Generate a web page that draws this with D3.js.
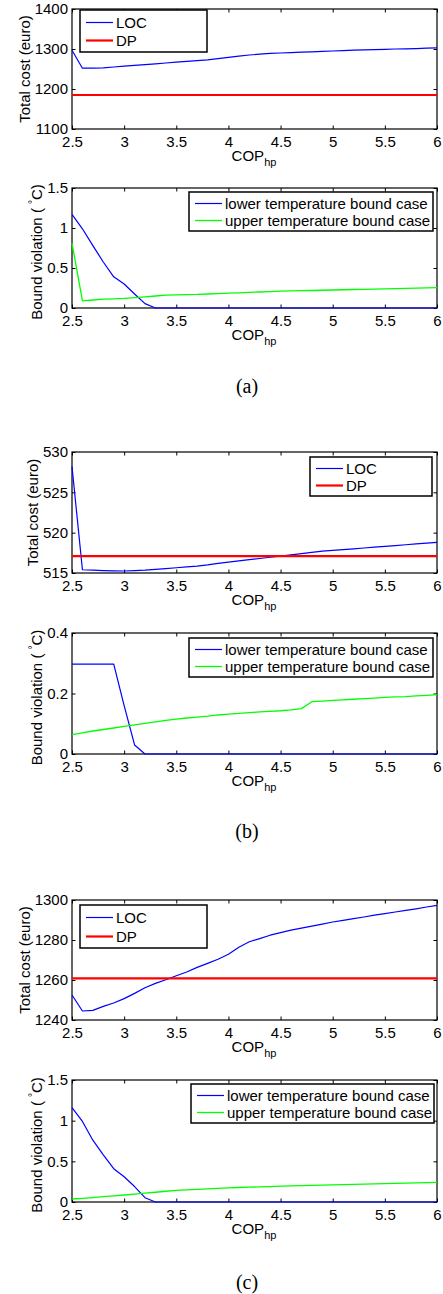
<!DOCTYPE html>
<html>
<head>
<meta charset="utf-8">
<script src="https://cdn.jsdelivr.net/npm/d3@7/dist/d3.min.js"></script>
<style>
  html, body { margin: 0; padding: 0; background: #fff; }
  svg { display: block; }
  text { font-family: "Liberation Sans", Arial, Helvetica, sans-serif; fill: #000; }
  .caption { font-family: "Liberation Serif", "Times New Roman", serif; }
</style>
</head>
<body>
<svg id="fig" width="443" height="1294"></svg>
<script>
// Heat pump coefficient of performance (x axis, shared by all panels)
const cop = [2.5, 2.6, 2.7, 2.8, 2.9, 3.0, 3.1, 3.2, 3.3, 3.4, 3.5, 3.6, 3.7, 3.8, 3.9,
             4.0, 4.1, 4.2, 4.3, 4.4, 4.5, 4.6, 4.7, 4.8, 4.9, 5.0, 5.1, 5.2, 5.3, 5.4,
             5.5, 5.6, 5.7, 5.8, 5.9, 6.0];
const copTicks = [2.5, 3, 3.5, 4, 4.5, 5, 5.5, 6];

// (a) total cost and bound violation
const costLocA = [1297, 1252, 1252, 1253, 1255, 1257, 1259, 1261, 1263, 1265, 1267, 1269,
                  1271, 1273, 1276, 1279, 1282, 1285, 1287, 1289, 1290, 1291, 1292, 1293,
                  1294, 1295, 1296, 1297, 1298, 1298.5, 1299, 1300, 1300.5, 1301, 1302, 1303];
const costDpA = 1185;
const costTicksA = [1100, 1200, 1300, 1400];
const lowerA = [1.17, 0.99, 0.78, 0.575, 0.39, 0.30, 0.175, 0.055, 0, 0, 0, 0, 0, 0, 0, 0, 0, 0,
                0, 0, 0, 0, 0, 0, 0, 0, 0, 0, 0, 0, 0, 0, 0, 0, 0, 0];
const upperA = [0.81, 0.09, 0.10, 0.11, 0.115, 0.12, 0.13, 0.14, 0.15, 0.16, 0.165, 0.168,
                0.17, 0.175, 0.18, 0.185, 0.19, 0.195, 0.2, 0.205, 0.21, 0.213, 0.216, 0.219,
                0.222, 0.225, 0.228, 0.231, 0.234, 0.237, 0.24, 0.243, 0.246, 0.249, 0.252, 0.255];
const violTicksA = [0, 0.5, 1, 1.5];

// (b) total cost and bound violation
const costLocB = [528.2, 515.4, 515.35, 515.3, 515.27, 515.25, 515.3, 515.35, 515.45, 515.55,
                  515.65, 515.75, 515.85, 516.0, 516.2, 516.35, 516.5, 516.65, 516.8, 516.95,
                  517.1, 517.25, 517.4, 517.55, 517.7, 517.8, 517.9, 518.0, 518.1, 518.2,
                  518.3, 518.4, 518.5, 518.6, 518.7, 518.8];
const costDpB = 517.1;
const costTicksB = [515, 520, 525, 530];
const lowerB = [0.297, 0.297, 0.297, 0.297, 0.297, 0.16, 0.03, 0, 0, 0, 0, 0, 0, 0, 0, 0, 0, 0,
                0, 0, 0, 0, 0, 0, 0, 0, 0, 0, 0, 0, 0, 0, 0, 0, 0, 0];
const upperB = [0.064, 0.07, 0.076, 0.081, 0.086, 0.091, 0.096, 0.101, 0.106, 0.111, 0.115,
                0.119, 0.122, 0.125, 0.129, 0.132, 0.134, 0.137, 0.139, 0.141, 0.143, 0.146,
                0.15, 0.173, 0.175, 0.177, 0.179, 0.181, 0.183, 0.185, 0.187, 0.189, 0.19,
                0.192, 0.194, 0.196];
const violTicksB = [0, 0.2, 0.4];

// (c) total cost and bound violation
const costLocC = [1252.5, 1244.5, 1244.8, 1246.8, 1248.5, 1250.7, 1253.3, 1256.1, 1258.3,
                  1260.1, 1262.1, 1264.0, 1266.3, 1268.3, 1270.4, 1272.9, 1276.4, 1279.1,
                  1280.7, 1282.4, 1283.7, 1284.9, 1285.9, 1286.9, 1287.9, 1289.0, 1289.8,
                  1290.7, 1291.5, 1292.4, 1293.2, 1294.0, 1294.8, 1295.6, 1296.5, 1297.3];
const costDpC = 1260.8;
const costTicksC = [1240, 1260, 1280, 1300];
const lowerC = [1.16, 0.99, 0.76, 0.58, 0.41, 0.31, 0.19, 0.053, 0, 0, 0, 0, 0, 0, 0, 0, 0, 0,
                0, 0, 0, 0, 0, 0, 0, 0, 0, 0, 0, 0, 0, 0, 0, 0, 0, 0];
const upperC = [0.037, 0.045, 0.055, 0.066, 0.076, 0.086, 0.097, 0.108, 0.12, 0.132, 0.142,
                0.149, 0.155, 0.161, 0.167, 0.173, 0.178, 0.182, 0.186, 0.19, 0.195, 0.198,
                0.201, 0.204, 0.207, 0.21, 0.213, 0.216, 0.219, 0.222, 0.225, 0.228, 0.232,
                0.236, 0.239, 0.242];
const violTicksC = [0, 0.5, 1, 1.5];

const captions = ["(a)", "(b)", "(c)"];
const costLegend = ["LOC", "DP"];
const violLegend = ["lower temperature bound case", "upper temperature bound case"];

const BLUE = "#0000ff", RED = "#ff0000", GREEN = "#00ff00";
const FONT = 15;
const LEFT = 72, RIGHT = 437, TICK = 3.5;

const svg = d3.select("#fig");
const x = d3.scaleLinear().domain([2.5, 6]).range([LEFT, RIGHT]);

function panel(cfg) {
  const g = svg.append("g");
  const y = d3.scaleLinear().domain(cfg.yDomain).range([cfg.bottom, cfg.top]);
  const fmt = d => String(d);

  // axes with inward ticks on all four sides
  const bottom = g.append("g").attr("transform", `translate(0,${cfg.bottom})`)
    .call(d3.axisBottom(x).tickValues(copTicks).tickFormat(fmt).tickSizeInner(-TICK).tickSizeOuter(0).tickPadding(7));
  const top = g.append("g").attr("transform", `translate(0,${cfg.top})`)
    .call(d3.axisTop(x).tickValues(copTicks).tickFormat("").tickSizeInner(-TICK).tickSizeOuter(0));
  const left = g.append("g").attr("transform", `translate(${LEFT},0)`)
    .call(d3.axisLeft(y).tickValues(cfg.yTicks).tickFormat(fmt).tickSizeInner(-TICK).tickSizeOuter(0).tickPadding(4));
  const right = g.append("g").attr("transform", `translate(${RIGHT},0)`)
    .call(d3.axisRight(y).tickValues(cfg.yTicks).tickFormat("").tickSizeInner(-TICK).tickSizeOuter(0));
  [bottom, top, left, right].forEach(a => {
    a.select(".domain").remove();
    a.selectAll("line").attr("stroke", "#000").attr("stroke-width", 1);
    a.selectAll("text").attr("font-size", FONT).attr("font-family", null).attr("fill", "#000");
  });

  g.append("rect").attr("x", LEFT).attr("y", cfg.top)
    .attr("width", RIGHT - LEFT).attr("height", cfg.bottom - cfg.top)
    .attr("fill", "none").attr("stroke", "#000").attr("stroke-width", 1.2);

  // data lines
  const line = d3.line().x((d, i) => x(cop[i])).y(d => y(d));
  cfg.series.forEach(s => {
    const vals = s.values.length ? s.values : cop.map(() => s.constant);
    g.append("path").datum(vals).attr("d", line)
      .attr("fill", "none").attr("stroke", s.color).attr("stroke-width", s.width)
      .attr("stroke-linejoin", "round");
  });

  // x label with subscript
  const xl = g.append("text").attr("x", 254).attr("y", cfg.bottom + 32)
    .attr("text-anchor", "middle").attr("font-size", FONT);
  xl.append("tspan").text("COP");
  xl.append("tspan").attr("dy", 5).attr("font-size", 11).text("hp");

  // y label
  const cy = (cfg.top + cfg.bottom) / 2 + (cfg.ylabelShift || 0);
  const yl = g.append("text")
    .attr("transform", `translate(${cfg.ylabelX},${cy}) rotate(-90)`)
    .attr("text-anchor", "middle").attr("font-size", FONT);
  if (cfg.degree) {
    yl.append("tspan").text("Bound violation ( ");
    yl.append("tspan").attr("dy", -6).attr("font-size", 10).text("\u00b0");
    yl.append("tspan").attr("dy", 6).text("C)");
  } else {
    yl.text(cfg.ylabel);
  }

  // legend
  const L = cfg.legend;
  const lg = g.append("g");
  lg.append("rect").attr("x", L.x).attr("y", L.y).attr("width", L.w).attr("height", L.h)
    .attr("fill", "#fff").attr("stroke", "#000").attr("stroke-width", 1.5);
  L.items.forEach((label, i) => {
    const s = cfg.series[i];
    const yy = Math.round(L.y + L.h * (i === 0 ? 0.29 : 0.72)) + 0.5;
    lg.append("line").attr("x1", L.x + 6).attr("x2", L.x + 33)
      .attr("y1", yy).attr("y2", yy)
      .attr("stroke", s.color).attr("stroke-width", s.width);
    lg.append("text").attr("x", L.x + 36).attr("y", yy + 5)
      .attr("font-size", FONT).text(label);
  });
}

function caption(text, cy) {
  svg.append("text").attr("class", "caption").attr("x", 247).attr("y", cy + 6)
    .attr("text-anchor", "middle").attr("font-size", 20).text(text);
}

// (a)
panel({ top: 9, bottom: 129, yDomain: [1100, 1400], yTicks: costTicksA,
  series: [{ values: costLocA, color: BLUE, width: 1.2 }, { values: [], constant: costDpA, color: RED, width: 2.2 }],
  ylabel: "Total cost (euro)", ylabelX: 30,
  legend: { x: 80, y: 10, w: 127, h: 42, items: costLegend } });
panel({ top: 188, bottom: 308, yDomain: [0, 1.5], yTicks: violTicksA, degree: true, ylabelX: 42, ylabelShift: 4,
  series: [{ values: lowerA, color: BLUE, width: 1.2 }, { values: upperA, color: GREEN, width: 1.3 }],
  legend: { x: 189, y: 192, w: 244, h: 39, items: violLegend } });
caption(captions[0], 387);

// (b)
panel({ top: 452, bottom: 573, yDomain: [515, 530], yTicks: costTicksB,
  series: [{ values: costLocB, color: BLUE, width: 1.2 }, { values: [], constant: costDpB, color: RED, width: 2.2 }],
  ylabel: "Total cost (euro)", ylabelX: 38,
  legend: { x: 310, y: 457, w: 122, h: 39, items: costLegend } });
panel({ top: 633, bottom: 754, yDomain: [0, 0.4], yTicks: violTicksB, degree: true, ylabelX: 42, ylabelShift: 4,
  series: [{ values: lowerB, color: BLUE, width: 1.2 }, { values: upperB, color: GREEN, width: 1.3 }],
  legend: { x: 189, y: 638, w: 244, h: 39, items: violLegend } });
caption(captions[1], 832);

// (c)
panel({ top: 900, bottom: 1020, yDomain: [1240, 1300], yTicks: costTicksC,
  series: [{ values: costLocC, color: BLUE, width: 1.2 }, { values: [], constant: costDpC, color: RED, width: 2.2 }],
  ylabel: "Total cost (euro)", ylabelX: 30,
  legend: { x: 80, y: 905, w: 127, h: 43, items: costLegend } });
panel({ top: 1080, bottom: 1202, yDomain: [0, 1.5], yTicks: violTicksC, degree: true, ylabelX: 42, ylabelShift: 4,
  series: [{ values: lowerC, color: BLUE, width: 1.2 }, { values: upperC, color: GREEN, width: 1.3 }],
  legend: { x: 191, y: 1084, w: 243, h: 39, items: violLegend } });
caption(captions[2], 1283);
</script>
</body>
</html>
